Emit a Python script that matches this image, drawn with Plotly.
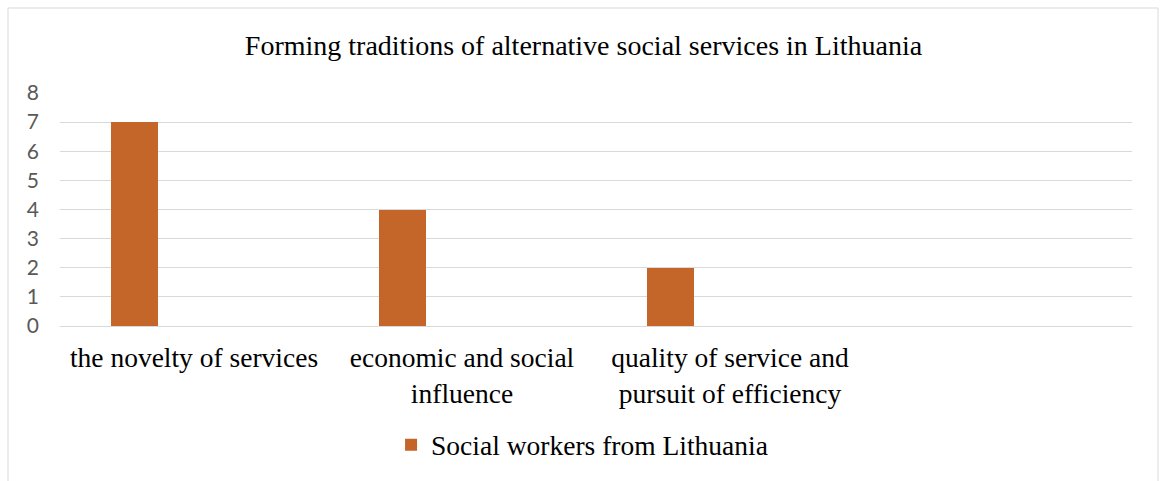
import plotly.graph_objects as go

# Survey answers: forming traditions of alternative social services
categories = [
    "the novelty of services",
    "economic and social<br>influence",
    "quality of service and<br>pursuit of efficiency",
]
series_name = "Social workers from Lithuania"
values = [7, 4, 2]
y_ticks = [0, 1, 2, 3, 4, 5, 6, 7, 8]

BAR_COLOR = "#C4652A"
GRID = "#D9D9D9"
SERIF = "Liberation Serif, Times New Roman, serif"

fig = go.Figure()
fig.add_trace(go.Bar(
    x=categories,
    y=values,
    name=series_name,
    marker=dict(color=BAR_COLOR, line=dict(width=0)),
    width=0.175,
    offset=-0.31,
    showlegend=True,
))

fig.update_layout(
    width=1160,
    height=481,
    margin=dict(l=60, r=28, t=93, b=155, autoexpand=False),
    paper_bgcolor="white",
    plot_bgcolor="white",
    title=dict(
        text="Forming traditions of alternative social services in Lithuania",
        font=dict(family=SERIF, size=28, color="#000000"),
        x=0.503, xref="container", xanchor="center",
        y=1 - 45 / 481, yref="container", yanchor="middle",
    ),
    xaxis=dict(
        type="category",
        range=[-0.5, 3.5],
        automargin=False,
        showgrid=False,
        showline=True,
        linecolor=GRID,
        linewidth=1,
        ticks="",
        tickfont=dict(family=SERIF, size=27.5, color="#000000"),
        ticklabelstandoff=7,
        zeroline=False,
    ),
    yaxis=dict(
        range=[0, 8],
        tickvals=y_ticks,
        automargin=False,
        showgrid=True,
        gridcolor=GRID,
        gridwidth=1,
        zeroline=False,
        showline=False,
        ticks="",
        tickfont=dict(family="Lato, Carlito, sans-serif", size=21, color="#595959"),
        ticklabelstandoff=20,
    ),
    legend=dict(
        orientation="h",
        x=0.487, xanchor="center",
        y=-0.51, yanchor="middle",
        font=dict(family=SERIF, size=27.5, color="#000000"),
        itemwidth=30,
        bgcolor="rgba(0,0,0,0)",
    ),
    bargap=0,
    shapes=[
        dict(
            type="rect", xref="paper", yref="paper",
            x0=(8 - 60) / 1072, x1=(1158 - 60) / 1072,
            y0=(326 - 8) / 233, y1=-0.9,
            line=dict(color=GRID, width=1),
            fillcolor="rgba(0,0,0,0)",
            layer="below",
        )
    ],
)

fig.write_html("out.html")
